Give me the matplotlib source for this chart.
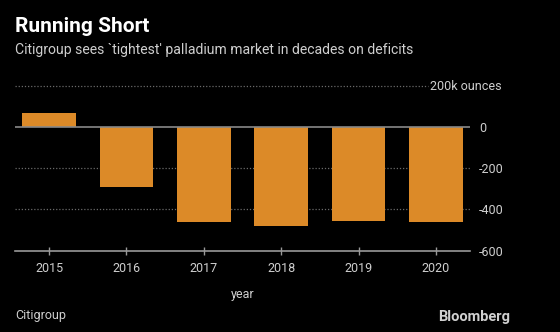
import matplotlib
matplotlib.use("Agg")
import matplotlib.pyplot as plt

years = ["2015", "2016", "2017", "2018", "2019", "2020"]
balance = [70, -290, -462, -480, -455, -462]  # thousand ounces
y_ticks = [200, 0, -200, -400, -600]
y_labels = ["200k ounces", "0", "-200", "-400", "-600"]

BG = "black"
BAR = "#dc8a28"
TXT = "#cfcfcf"
GRID = "#6a6a6a"
PX = 72 / 100  # points per pixel at 100 dpi

plt.rcParams["font.family"] = ["Roboto", "DejaVu Sans"]

fig = plt.figure(figsize=(5.6, 3.32), dpi=100, facecolor=BG)
ax = fig.add_axes([15 / 560, 1 - 250.5 / 332, (470 - 15) / 560, (250.5 - 86) / 332])
ax.set_facecolor(BG)

x = list(range(len(years)))
ax.bar(x, balance, width=0.69, color=BAR, zorder=3)

ax.set_xlim(-0.44, 5.44)
ax.set_ylim(-600, 200)

# dotted gridlines; the top one stops short of its unit label
for v in y_ticks:
    if v == 200:
        ax.plot([-0.44, 4.9], [v, v], color=GRID, lw=0.9, ls=(0, (1, 1.5)), zorder=1,
                clip_on=False)
    elif v == 0:
        ax.axhline(v, color="#888888", lw=1.2, zorder=4)
    elif v == -600:
        pass
    else:
        ax.axhline(v, color=GRID, lw=0.9, ls=(0, (1, 1.5)), zorder=1)

for s in ["top", "left", "right"]:
    ax.spines[s].set_visible(False)
ax.spines["bottom"].set_color("#999999")
ax.spines["bottom"].set_linewidth(1.2)
ax.spines["bottom"].set_zorder(5)

ax.set_xticks(x)
ax.set_xticklabels(years)
ax.tick_params(axis="x", colors="#999999", direction="inout", length=6, width=1,
               labelcolor=TXT, labelsize=9, pad=5.5)

# numeric labels on the right; the top one carries the unit and is right-aligned
ax.yaxis.tick_right()
ax.set_yticks(y_ticks)
ax.set_yticklabels([""] + y_labels[1:])
ax.tick_params(axis="y", length=0, labelcolor=TXT, labelsize=9, pad=9 * PX)
ax.annotate(y_labels[0], xy=(1, y_ticks[0]), xycoords=("axes fraction", "data"),
            xytext=(32 * PX, 0), textcoords="offset points",
            ha="right", va="center", color=TXT, fontsize=9)

ax.set_xlabel("year", color=TXT, fontsize=9, labelpad=9)

fig.text(15 / 560, 1 - 27 / 332, "Running Short", color="white", fontsize=15,
         fontweight="bold", va="center", ha="left")
fig.text(15 / 560, 1 - 50 / 332,
         "Citigroup sees `tightest' palladium market in decades on deficits",
         color=TXT, fontsize=10.1, va="center", ha="left")
fig.text(15 / 560, 1 - 315 / 332, "Citigroup", color=TXT, fontsize=9,
         va="center", ha="left")
fig.text(510 / 560, 1 - 317 / 332, "Bloomberg", color=TXT, fontsize=10.5,
         fontweight="bold", va="center", ha="right")

fig.savefig("out.png", dpi=100, facecolor=BG)
